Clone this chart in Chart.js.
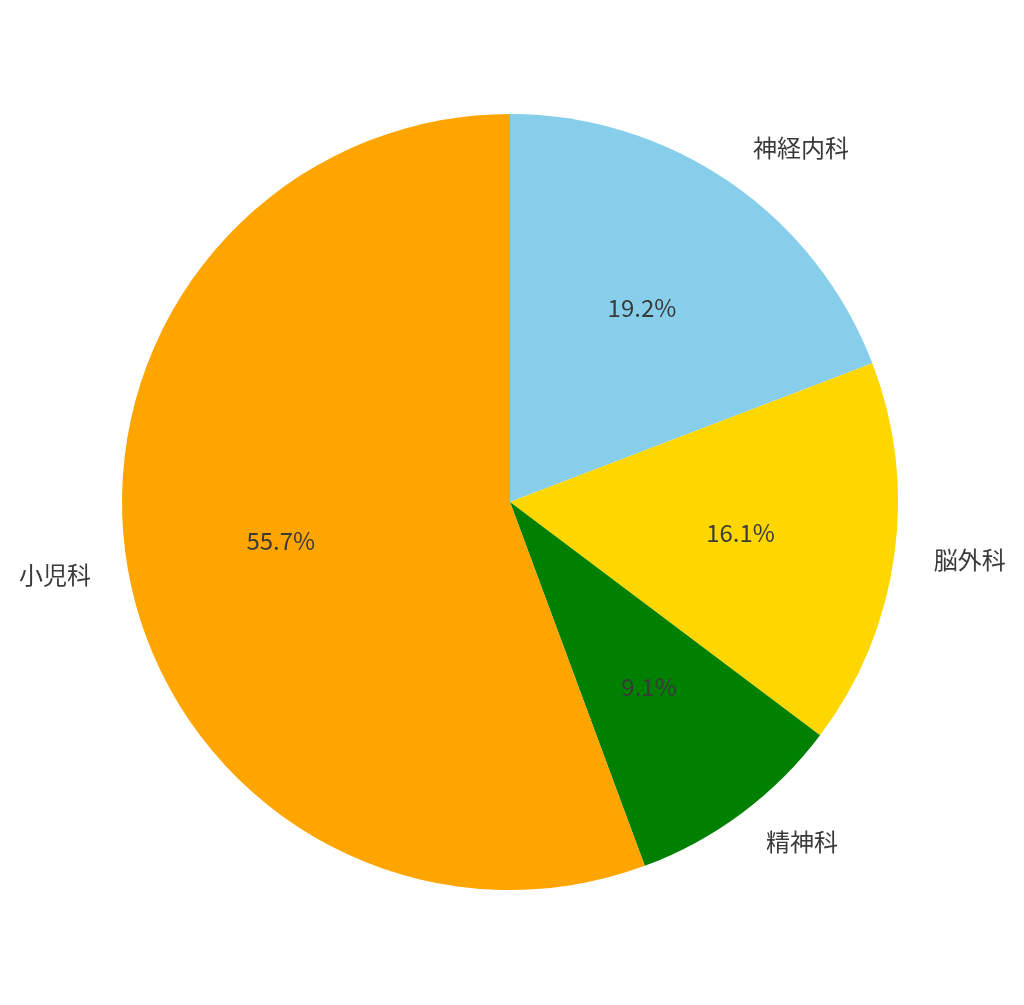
<!DOCTYPE html>
<html>
<head>
<meta charset="utf-8">
<script src="https://cdn.jsdelivr.net/npm/chart.js@4"></script>
<style>
  html, body { margin: 0; padding: 0; background: #fff; }
  canvas { display: block; }
</style>
</head>
<body>
<canvas id="pieChart" width="1024" height="1005"></canvas>
<script>
// chart data
const labels = ['神経内科', '脳外科', '精神科', '小児科'];
const values = [19.2, 16.1, 9.1, 55.7];
const colors = ['#87CEEB', '#FFD700', '#008000', '#FFA500'];

const fontFamily = '"Noto Sans CJK JP", "Noto Sans", sans-serif';

// draw category labels outside and percentages inside, like matplotlib
const pieLabels = {
  id: 'pieLabels',
  afterDatasetsDraw(chart) {
    const ctx = chart.ctx;
    const meta = chart.getDatasetMeta(0);
    ctx.save();
    ctx.font = '24px ' + fontFamily;
    ctx.fillStyle = '#3a3a3a';
    ctx.textBaseline = 'middle';
    meta.data.forEach(function(arc, i) {
      const p = arc.getProps(['x', 'y', 'startAngle', 'endAngle', 'outerRadius'], true);
      const mid = (p.startAngle + p.endAngle) / 2;
      const cx = Math.cos(mid), cy = Math.sin(mid);

      // outer label
      ctx.textAlign = cx >= 0 ? 'left' : 'right';
      ctx.fillText(labels[i], p.x + cx * p.outerRadius * 1.1 + 1, p.y + cy * p.outerRadius * 1.1 - 2);

      // percentage
      ctx.textAlign = 'center';
      ctx.fillText(values[i].toFixed(1) + '%', p.x + cx * p.outerRadius * 0.6, p.y + cy * p.outerRadius * 0.6 - 2);
    });
    ctx.restore();
  }
};

let elChart = document.getElementById('pieChart').getContext('2d');
let pieChart = new Chart(elChart, {
  type: 'pie',
  data: {
    labels: labels,
    datasets: [{
      data: values,
      backgroundColor: colors,
      borderWidth: 0
    }]
  },
  options: {
    responsive: false,
    animation: false,
    layout: {
      padding: { left: 122, right: 126, top: 114, bottom: 115 }
    },
    plugins: {
      legend: { display: false },
      tooltip: { enabled: false }
    }
  },
  plugins: [pieLabels]
});
</script>
</body>
</html>
